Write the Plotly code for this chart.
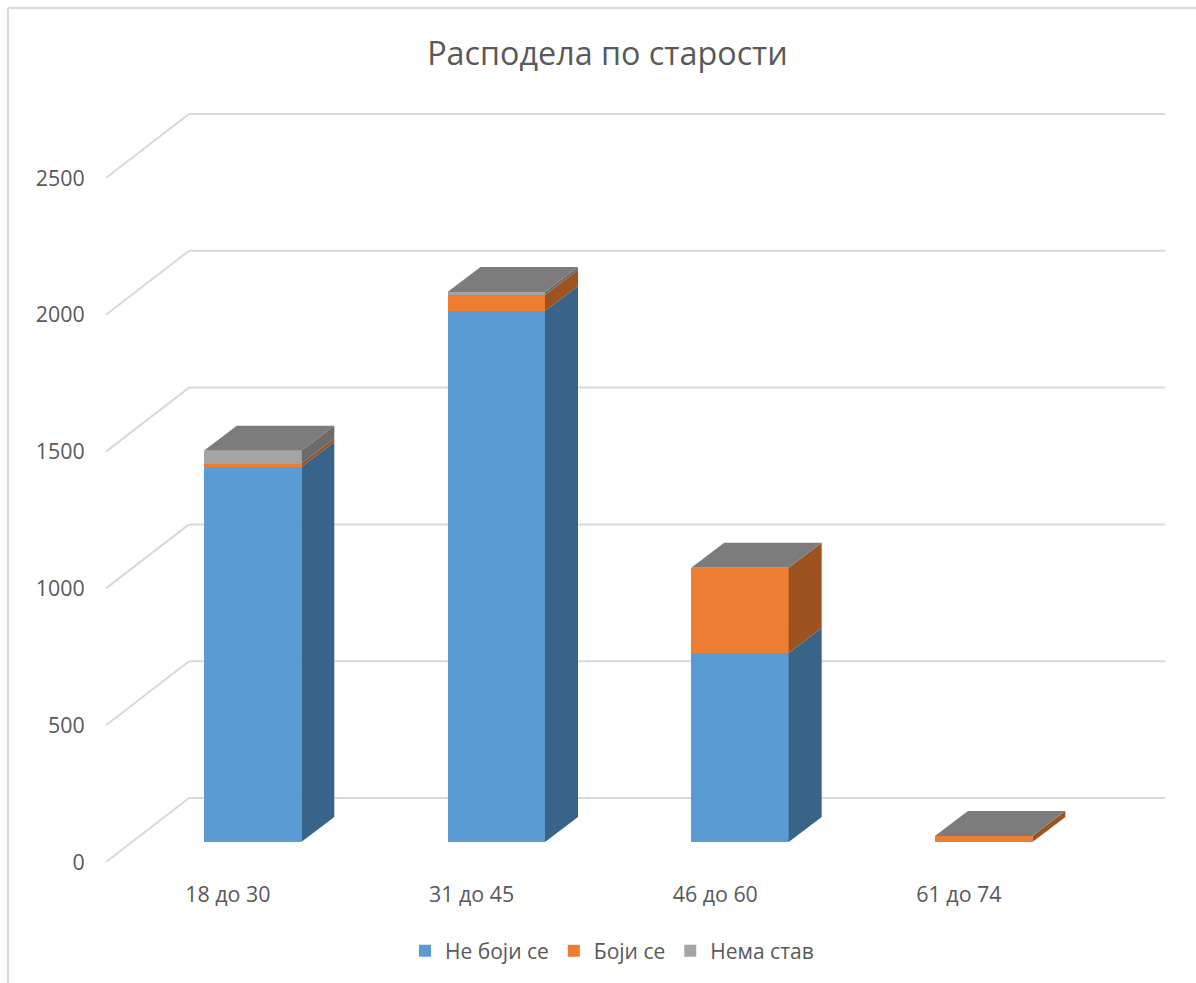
import plotly.graph_objects as go

categories = ["18 до 30", "31 до 45", "46 до 60", "61 до 74"]
ne_boji = [1371, 1941, 691, 0]
boji = [12, 58, 311, 22]
nema = [47, 11, 0, 0]
y_ticks = [0, 500, 1000, 1500, 2000, 2500]

series_names = ["Не боји се", "Боји се", "Нема став"]
series_values = [ne_boji, boji, nema]
front_colors = ["#5b9bd5", "#ed7d31", "#a5a5a5"]
side_colors = ["#396489", "#9c5320", "#6b6b6b"]
top_color = "#7c7c7c"
grid_color = "#d9d9d9"
text_color = "#595959"
font = "Open Sans"

W, H = 1196, 983
L, R, T, B = 105, 1165, 100, 862       # plot area in page pixels
px_per_cat = 243.7
px_per_val = 0.2736
x0 = -0.5 - 1 / px_per_cat
x1 = x0 + (R - L) / px_per_cat
y1 = (B - T) / px_per_val


def dxp(p):
    return p / px_per_cat


def dyp(p):
    return p / px_per_val


wall_dx, wall_dy = dxp(83), dyp(64)    # depth of the floor
bar_dx, bar_dy = dxp(24.7), dyp(20)    # bar front plane set back from the front
depth_dx, depth_dy = dxp(33), dyp(25)  # bar depth
bar_w = 97.5 / px_per_cat

fig = go.Figure()

# front faces: real bars
centers = [i + bar_dx for i in range(len(categories))]
cum = [bar_dy] * len(categories)
bases = []
for name, vals, col in zip(series_names, series_values, front_colors):
    bases.append(list(cum))
    fig.add_trace(go.Bar(x=centers, y=vals, base=list(cum), width=bar_w, name=name,
                         marker=dict(color=col, line=dict(width=0))))
    cum = [c + v for c, v in zip(cum, vals)]


def poly(xs, ys, color):
    fig.add_trace(go.Scatter(x=xs, y=ys, mode="lines", fill="toself", fillcolor=color,
                             line=dict(width=0, color=color), showlegend=False,
                             hoverinfo="skip"))


# side faces and top faces
for i, c in enumerate(centers):
    xl, xr = c - bar_w / 2, c + bar_w / 2
    for s, vals in enumerate(series_values):
        if vals[i] <= 0:
            continue
        b, t = bases[s][i], bases[s][i] + vals[i]
        poly([xr, xr + depth_dx, xr + depth_dx, xr, xr],
             [b, b + depth_dy, t + depth_dy, t, b], side_colors[s])
    t = cum[i]
    poly([xl, xr, xr + depth_dx, xl + depth_dx, xl],
         [t, t, t + depth_dy, t + depth_dy, t], top_color)

# gridlines in the 3D wall, below the traces
shapes = []
for v in y_ticks:
    shapes.append(dict(type="line", xref="x", yref="y", layer="below",
                       x0=-0.5, y0=v, x1=-0.5 + wall_dx, y1=v + wall_dy,
                       line=dict(color=grid_color, width=2)))
    shapes.append(dict(type="line", xref="x", yref="y", layer="below",
                       x0=-0.5 + wall_dx, y0=v + wall_dy, x1=x1, y1=v + wall_dy,
                       line=dict(color=grid_color, width=2)))

# outer chart frame (left and top edges)
fx = (8 - L) / (R - L)
fy_top = (H - 8 - (H - B)) / (B - T)
fy_bot = -(H - B) / (B - T)
shapes.append(dict(type="line", xref="paper", yref="paper", x0=fx, x1=fx, y0=fy_bot, y1=fy_top,
                   line=dict(color=grid_color, width=2)))
shapes.append(dict(type="line", xref="paper", yref="paper", x0=fx, x1=(W - L) / (R - L),
                   y0=fy_top, y1=fy_top, line=dict(color=grid_color, width=2)))

fig.update_layout(
    width=W, height=H, autosize=False,
    margin=dict(l=L, r=W - R, t=T, b=H - B, pad=0),
    paper_bgcolor="white", plot_bgcolor="white",
    barmode="overlay", bargap=0,
    font=dict(family=font, color=text_color, size=21.4),
    title=dict(text="Расподела по старости", xref="container", yref="container",
               x=607.5 / W, y=1 - 53.5 / H, xanchor="center", yanchor="middle",
               font=dict(size=32.3, family=font, color=text_color)),
    xaxis=dict(range=[x0, x1], tickmode="array", tickvals=list(range(len(categories))),
               ticktext=categories, showgrid=False, zeroline=False, showline=False,
               ticks="outside", ticklen=13, tickcolor="rgba(0,0,0,0)", fixedrange=True),
    yaxis=dict(range=[0, y1], tickmode="array", tickvals=y_ticks, showgrid=False,
               zeroline=False, showline=False, ticks="outside", ticklen=15,
               tickcolor="rgba(0,0,0,0)", fixedrange=True),
    legend=dict(orientation="h", xref="container", yref="container", x=612 / W, y=1 - 951 / H,
                xanchor="center", yanchor="middle", font=dict(size=21, color=text_color),
                itemwidth=30, itemclick=False, itemdoubleclick=False),
    shapes=shapes,
)

fig.write_html("out.html", post_script="document.body.style.margin='0';",
               config=dict(displayModeBar=False))
